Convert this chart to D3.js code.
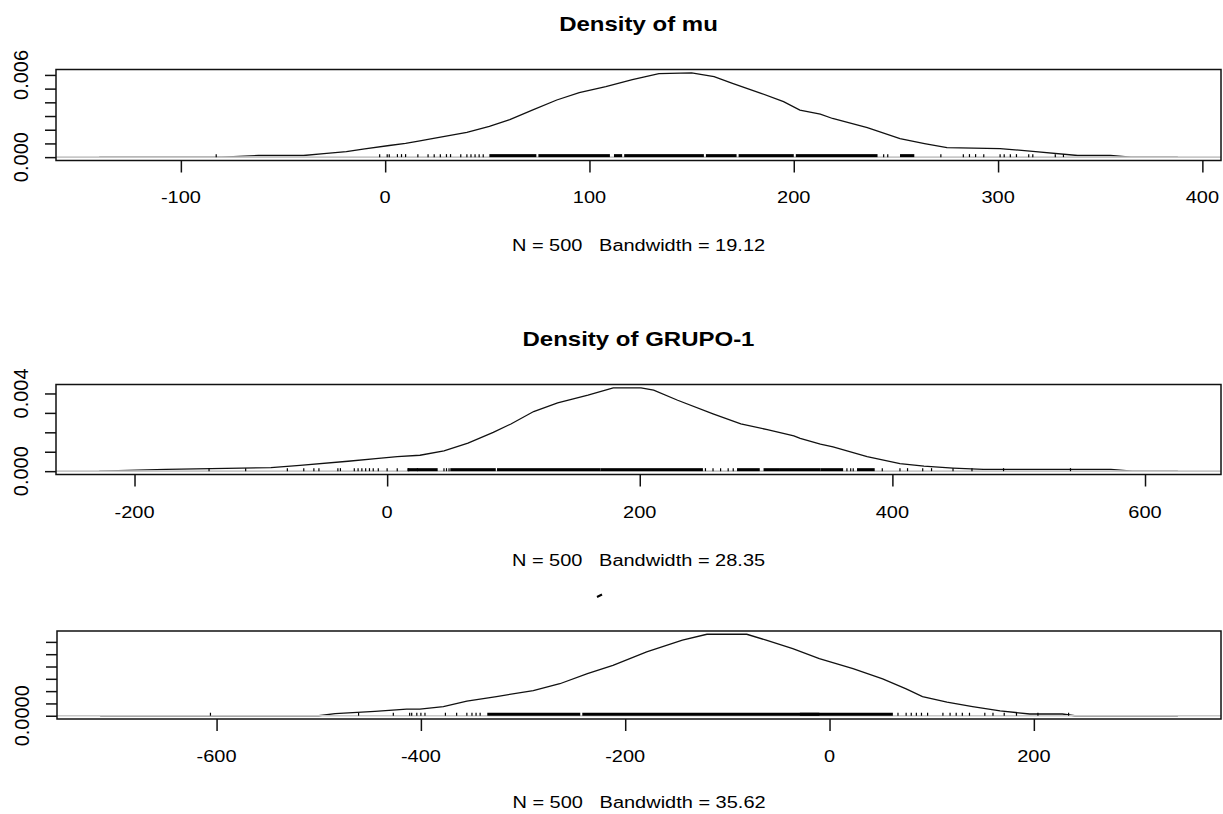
<!DOCTYPE html>
<html>
<head>
<meta charset="utf-8">
<script src="https://cdn.jsdelivr.net/npm/d3@7"></script>
<style>
  body { margin: 0; background: #fff; }
  svg { display: block; }
  text { font-family: "Liberation Sans", Arial, sans-serif; fill: #000; white-space: pre; }
</style>
</head>
<body>
<svg id="chart" width="1223" height="814"></svg>
<script>
// ---------------- data ----------------
const titles = ["Density of mu", "Density of GRUPO-1", ""];
const subLabels = ["N = 500   Bandwidth = 19.12", "N = 500   Bandwidth = 28.35", "N = 500   Bandwidth = 35.62"];

// density of mu
const muX    = [-140, -80, -62, -40, -30, -19, -10, 2, 10, 17, 23, 40, 51, 61, 72, 84, 95, 108, 121, 134, 150, 161, 170, 184, 195, 203, 213, 219, 236, 252, 264, 275, 301, 317, 339, 355, 365, 388];
const muDens = [0, 0, 0.00012, 0.00012, 0.00025, 0.0004, 0.0006, 0.00085, 0.001, 0.00118, 0.00135, 0.0018, 0.00225, 0.00274, 0.00343, 0.00417, 0.00471, 0.00515, 0.00566, 0.0061, 0.00615, 0.00588, 0.00539, 0.00466, 0.00405, 0.00343, 0.00314, 0.00282, 0.00216, 0.00135, 0.00099, 0.00069, 0.00062, 0.00042, 0.00012, 0.00012, 0, 0];
const muRugTicks = [-82.7, -2.7, 1, 2, 6, 8, 10, 16, 21, 24, 27, 30, 32, 37, 40, 42, 44, 46, 48, 244, 246, 272, 283, 286, 289, 293, 301, 303, 306, 309, 315, 317, 328, 332];
const muRugSpans = [[51, 74], [75, 110], [112, 116], [117, 156], [157, 172], [173, 200], [201, 241], [252, 259]];
const muXTicks = [-100, 0, 100, 200, 300, 400];
const muYTicks = [0, 0.001, 0.002, 0.003, 0.004, 0.005, 0.006];
const muYLabels = ["0.000", "", "", "", "", "", "0.006"];

// density of GRUPO-1
const g1X    = [-228, -175, -92, -69, -31, -9, 8, 26, 45, 64, 84, 98, 116, 135, 159, 179, 201, 211, 230, 258, 280, 301, 322, 327, 343, 353, 380, 406, 425, 448, 472, 573, 590, 626];
const g1Dens = [0, 0.00009, 0.00018, 0.0003, 0.00051, 0.00065, 0.00075, 0.00082, 0.00104, 0.00144, 0.002, 0.00243, 0.00307, 0.00351, 0.00391, 0.00429, 0.00429, 0.00417, 0.00365, 0.00295, 0.00243, 0.00214, 0.00182, 0.00169, 0.00139, 0.00125, 0.00075, 0.00039, 0.00026, 0.00016, 0.00009, 0.00009, 0, 0];
const g1RugTicks = [-141, -112, -79, -66, -58, -54, -39, -37, -26, -23, -20, -17, -14, -11, -7, 0, 8, 17, 24, 45, 47, 49, 252, 258, 264, 270, 274, 364, 367, 369, 392, 406, 412, 424, 431, 448, 463, 488, 541];
const g1RugSpans = [[16, 40], [50, 86], [87, 169], [169, 250], [277, 295], [298, 311], [311, 343], [343, 361], [372, 386]];
const g1XTicks = [-200, 0, 200, 400, 600];
const g1YTicks = [0, 0.001, 0.002, 0.003, 0.004];
const g1YLabels = ["0.000", "", "", "", "0.004"];

// third panel (title hidden in the original)
const g2X    = [-714, -500, -484, -445, -414, -401, -378, -355, -326, -290, -264, -237, -212, -179, -144, -120, -81, -62, -36, -10, 23, 52, 75, 91, 115, 140, 167, 196, 228, 240, 341];
const g2Dens = [0, 0, 0.00009, 0.00018, 0.00027, 0.00027, 0.00037, 0.00059, 0.00078, 0.00102, 0.0013, 0.00171, 0.00205, 0.00259, 0.00307, 0.00331, 0.00331, 0.00307, 0.00273, 0.00232, 0.00191, 0.0015, 0.00109, 0.00078, 0.00055, 0.00037, 0.0002, 0.00007, 0.00007, 0, 0];
const g2RugTicks = [-606, -461, -427, -411, -409, -404, -400, -396, -376, -365, -355, -350, -346, -342, 67, 75, 80, 85, 90, 96, 111, 118, 124, 130, 137, 152, 160, 171, 183, 204, 234];
const g2RugSpans = [[-335, -244], [-242, -10], [-29, 62]];
const g2XTicks = [-600, -400, -200, 0, 200];
const g2YTicks = [0, 0.0005, 0.001, 0.0015, 0.002, 0.0025, 0.003];
const g2YLabels = ["0.0000", "", "", "", "", "", ""];

// ---------------- layout ----------------
const svg = d3.select('#chart');
const fontScaleY = 0.82;   // picture is squashed vertically

const boxes = [
  {left: 56, right: 1221, top: 69.5,  bottom: 160.5, titleY: 31,  tickY: 203, subY: 251},
  {left: 56, right: 1221, top: 384.5, bottom: 474.5, titleY: 346, tickY: 518, subY: 566},
  {left: 57, right: 1221, top: 631,   bottom: 719,   titleY: 600, tickY: 762, subY: 808}
];

const panels = [
  {x: muX, dens: muDens, rugTicks: muRugTicks, rugSpans: muRugSpans, xTicks: muXTicks, yTicks: muYTicks, yLabels: muYLabels},
  {x: g1X, dens: g1Dens, rugTicks: g1RugTicks, rugSpans: g1RugSpans, xTicks: g1XTicks, yTicks: g1YTicks, yLabels: g1YLabels},
  {x: g2X, dens: g2Dens, rugTicks: g2RugTicks, rugSpans: g2RugSpans, xTicks: g2XTicks, yTicks: g2YTicks, yLabels: g2YLabels}
];

function squashText(g, x, y, str, size, weight) {
  g.append('text')
    .attr('transform', `translate(${x},${y}) scale(1,${fontScaleY})`)
    .attr('text-anchor', 'middle')
    .attr('xml:space', 'preserve')
    .style('font-size', size + 'px')
    .style('font-weight', weight || 'normal')
    .text(str);
}

panels.forEach((p, i) => {
  const b = boxes[i];
  const g = svg.append('g');

  // R style: 4% extension on both sides
  const [x0, x1] = d3.extent(p.x);
  const xpad = (x1 - x0) * 0.04;
  const x = d3.scaleLinear().domain([x0 - xpad, x1 + xpad]).range([b.left, b.right]);
  const ymax = d3.max(p.dens);
  const y = d3.scaleLinear().domain([-0.04 * ymax, 1.04 * ymax]).range([b.bottom, b.top]);

  //-------density curve
  const line = d3.line().x((d, k) => x(p.x[k])).y(d => y(d));
  g.append('path')
    .datum(p.dens)
    .attr('d', line)
    .attr('fill', 'none')
    .attr('stroke', '#111')
    .attr('stroke-width', 1.3);

  //-------zero line drawn over the curve
  g.append('line')
    .attr('x1', b.left).attr('x2', b.right)
    .attr('y1', y(0)).attr('y2', y(0))
    .attr('stroke', '#c8c8c8')
    .attr('stroke-width', 1.6);

  //-------observations
  const rugH = 3;
  g.selectAll('.rugtick')
    .data(p.rugTicks)
    .enter().append('line')
      .attr('x1', d => x(d)).attr('x2', d => x(d))
      .attr('y1', y(0)).attr('y2', y(0) - rugH)
      .attr('stroke', '#000')
      .attr('stroke-width', 1.2);
  g.selectAll('.rugspan')
    .data(p.rugSpans)
    .enter().append('rect')
      .attr('x', d => x(d[0]))
      .attr('width', d => x(d[1]) - x(d[0]))
      .attr('y', y(0) - rugH)
      .attr('height', rugH)
      .attr('fill', '#000');

  //-------box
  g.append('rect')
    .attr('x', b.left).attr('y', b.top)
    .attr('width', b.right - b.left).attr('height', b.bottom - b.top)
    .attr('fill', 'none')
    .attr('stroke', '#111')
    .attr('stroke-width', 1.5);

  //-------x axis
  const xAxis = g.append('g')
    .attr('transform', `translate(0,${b.bottom})`)
    .call(d3.axisBottom(x).tickValues(p.xTicks).tickSize(12).tickFormat(''));
  xAxis.select('.domain').remove();
  xAxis.selectAll('line').attr('stroke', '#111').attr('stroke-width', 1.5);
  p.xTicks.forEach(t => squashText(g, x(t), b.tickY, String(t), 20));

  //-------y axis
  const yAxis = g.append('g')
    .attr('transform', `translate(${b.left},0)`)
    .call(d3.axisLeft(y).tickValues(p.yTicks).tickSize(11).tickFormat(''));
  yAxis.select('.domain').remove();
  yAxis.selectAll('line').attr('stroke', '#111').attr('stroke-width', 1.5);
  p.yTicks.forEach((t, k) => {
    if (!p.yLabels[k]) return;
    g.append('text')
      .attr('transform', `translate(${b.left - 28},${y(t)}) rotate(-90)`)
      .attr('text-anchor', 'middle')
      .style('font-size', '20px')
      .text(p.yLabels[k]);
  });

  //-------title and sub label
  const cx = (b.left + b.right) / 2;
  if (titles[i]) squashText(g, cx, b.titleY, titles[i], 24, 'bold');
  squashText(g, cx, b.subY, subLabels[i], 20);
});

// fragment of the hidden third title
svg.append('path')
  .attr('d', 'M597,597 L602,594.5')
  .attr('stroke', '#000')
  .attr('stroke-width', 2);
</script>
</body>
</html>
